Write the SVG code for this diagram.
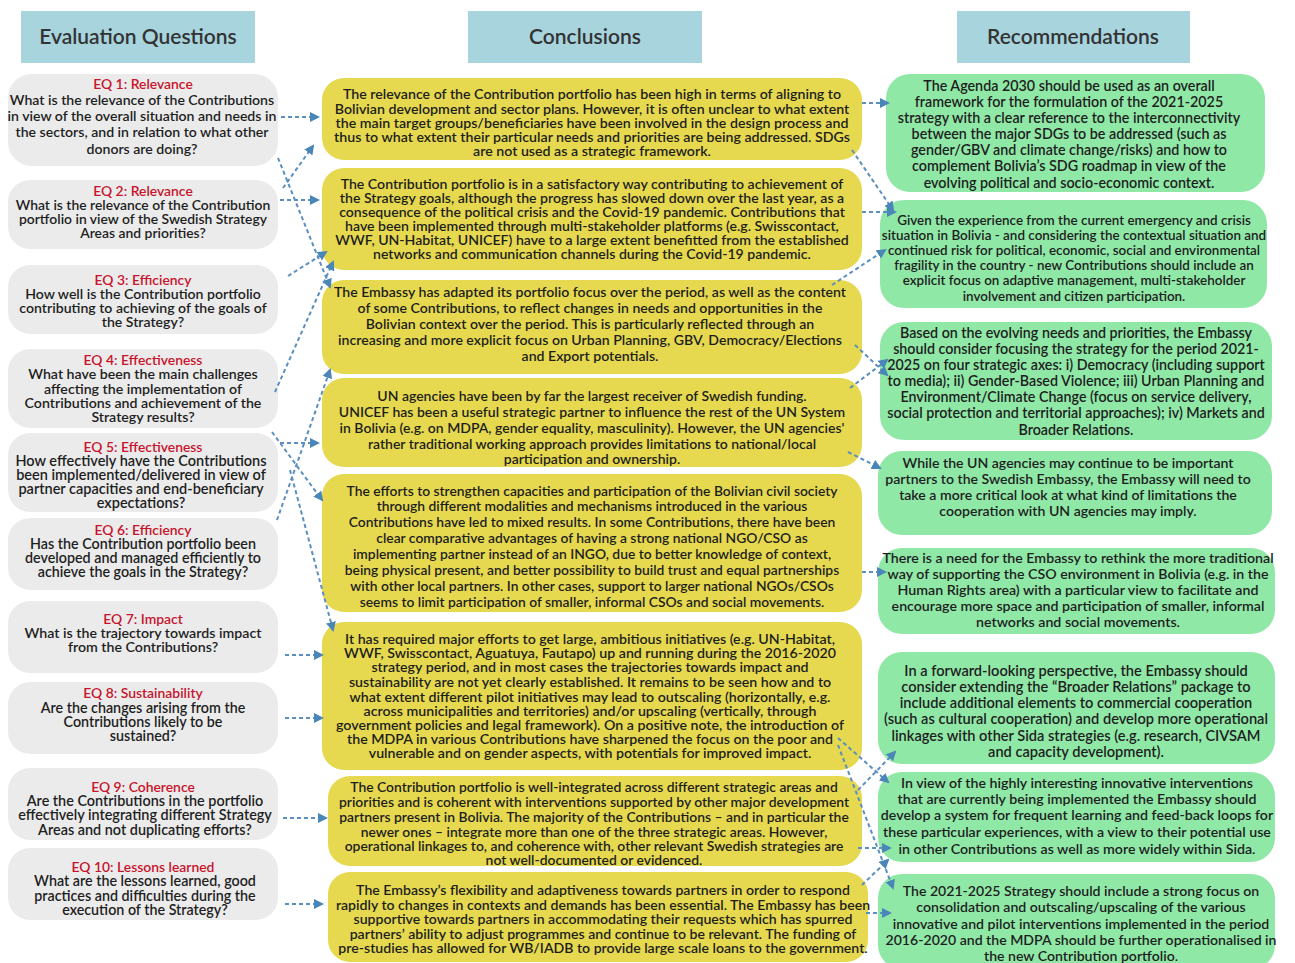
<svg xmlns="http://www.w3.org/2000/svg" width="1295" height="963" viewBox="0 0 1295 963">
<style>
text{font-family:Lato,"Open Sans","Liberation Sans",sans-serif;fill:#1e1e1e;text-anchor:middle;font-weight:600}
.hd rect{fill:#a8d4de}
.hd text{font-size:21px;fill:#333}
.q rect{fill:#ebebeb}
.q{font-size:14px}
.q .t{fill:#c8142c;font-size:13.9px}
.c rect{fill:#e6d94f}
.c{font-size:14.1px}
.r rect{fill:#90e8a7}
.r{font-size:14.2px}
.cn path{fill:none;stroke:#5b8fbf;stroke-width:2;stroke-dasharray:4 3;marker-end:url(#ah)}
</style>
<defs>
<marker id="ah" viewBox="0 0 10 10" refX="8" refY="5" markerWidth="10" markerHeight="10" markerUnits="userSpaceOnUse" orient="auto">
<path d="M0,0 L10,5 L0,10 Z" fill="#4b86b9"/>
</marker>
</defs>
<rect width="1295" height="963" fill="#fff"/>

<g id="hdr-eq" class="hd"><rect x="21" y="11" width="234" height="52"/><text x="138" y="44">Evaluation Questions</text></g>
<g id="hdr-con" class="hd"><rect x="468" y="11" width="234" height="52"/><text x="585" y="44">Conclusions</text></g>
<g id="hdr-rec" class="hd"><rect x="957" y="11" width="233" height="52"/><text x="1073" y="44">Recommendations</text></g>

<g id="eq1" class="q" style="font-size:14.1px"><rect x="8" y="74" width="270" height="92" rx="24"/>
<text class="t" x="143" y="89">EQ 1: Relevance</text>
<text x="142" y="105">What is the relevance of the Contributions</text>
<text x="142" y="121">in view of the overall situation and needs in</text>
<text x="142" y="137">the sectors, and in relation to what other</text>
<text x="142" y="154">donors are doing?</text></g>
<g id="eq2" class="q" style="font-size:13.9px"><rect x="8" y="180" width="270" height="69" rx="22"/>
<text class="t" x="143" y="196">EQ 2: Relevance</text>
<text x="143" y="210">What is the relevance of the Contribution</text>
<text x="143" y="224">portfolio in view of the Swedish Strategy</text>
<text x="143" y="238">Areas and priorities?</text></g>
<g id="eq3" class="q" style="font-size:14.1px"><rect x="8" y="265" width="270" height="69" rx="22"/>
<text class="t" x="143" y="285">EQ 3: Efficiency</text>
<text x="143" y="299">How well is the Contribution portfolio</text>
<text x="143" y="313">contributing to achieving of the goals of</text>
<text x="143" y="327">the Strategy?</text></g>
<g id="eq4" class="q" style="font-size:14.2px"><rect x="8" y="349" width="270" height="79" rx="22"/>
<text class="t" x="143" y="365">EQ 4: Effectiveness</text>
<text x="143" y="379">What have been the main challenges</text>
<text x="143" y="394">affecting the implementation of</text>
<text x="143" y="408">Contributions and achievement of the</text>
<text x="143" y="422">Strategy results?</text></g>
<g id="eq5" class="q" style="font-size:14.5px"><rect x="8" y="433" width="270" height="79" rx="22"/>
<text class="t" x="143" y="452">EQ 5: Effectiveness</text>
<text x="141" y="466">How effectively have the Contributions</text>
<text x="141" y="480">been implemented/delivered in view of</text>
<text x="141" y="494">partner capacities and end-beneficiary</text>
<text x="141" y="508">expectations?</text></g>
<g id="eq6" class="q" style="font-size:14.3px"><rect x="8" y="518" width="270" height="72" rx="22"/>
<text class="t" x="143" y="535">EQ 6: Efficiency</text>
<text x="143" y="549">Has the Contribution portfolio been</text>
<text x="143" y="563">developed and managed efficiently to</text>
<text x="143" y="577">achieve the goals in the Strategy?</text></g>
<g id="eq7" class="q" style="font-size:14.2px"><rect x="8" y="601" width="270" height="72" rx="22"/>
<text class="t" x="143" y="624">EQ 7: Impact</text>
<text x="143" y="638">What is the trajectory towards impact</text>
<text x="143" y="652">from the Contributions?</text></g>
<g id="eq8" class="q" style="font-size:14.3px"><rect x="8" y="682" width="270" height="72" rx="22"/>
<text class="t" x="143" y="698">EQ 8: Sustainability</text>
<text x="143" y="713">Are the changes arising from the</text>
<text x="143" y="727">Contributions likely to be</text>
<text x="143" y="741">sustained?</text></g>
<g id="eq9" class="q" style="font-size:14.4px"><rect x="8" y="768" width="270" height="72" rx="22"/>
<text class="t" x="143" y="792">EQ 9: Coherence</text>
<text x="145" y="806">Are the Contributions in the portfolio</text>
<text x="145" y="820">effectively integrating different Strategy</text>
<text x="145" y="835">Areas and not duplicating efforts?</text></g>
<g id="eq10" class="q" style="font-size:14.3px"><rect x="8" y="848" width="270" height="72" rx="22"/>
<text class="t" x="143" y="872">EQ 10: Lessons learned</text>
<text x="145" y="886">What are the lessons learned, good</text>
<text x="145" y="901">practices and difficulties during the</text>
<text x="145" y="915">execution of the Strategy?</text></g>

<g id="c1" class="c" style="font-size:14.2px"><rect x="322" y="78" width="540" height="82" rx="22"/>
<text x="592" y="99">The relevance of the Contribution portfolio has been high in terms of aligning to</text>
<text x="592" y="114">Bolivian development and sector plans. However, it is often unclear to what extent</text>
<text x="592" y="128">the main target groups/beneficiaries have been involved in the design process and</text>
<text x="592" y="142">thus to what extent their particular needs and priorities are being addressed. SDGs</text>
<text x="592" y="156">are not used as a strategic framework.</text></g>
<g id="c2" class="c" style="font-size:14.1px"><rect x="322" y="168" width="540" height="102" rx="22"/>
<text x="592" y="189">The Contribution portfolio is in a satisfactory way contributing to achievement of</text>
<text x="592" y="203">the Strategy goals, although the progress has slowed down over the last year, as a</text>
<text x="592" y="217">consequence of the political crisis and the Covid-19 pandemic. Contributions that</text>
<text x="592" y="231">have been implemented through multi-stakeholder platforms (e.g. Swisscontact,</text>
<text x="592" y="245">WWF, UN-Habitat, UNICEF) have to a large extent benefitted from the established</text>
<text x="592" y="259">networks and communication channels during the Covid-19 pandemic.</text></g>
<g id="c3" class="c" style="font-size:14.1px"><rect x="322" y="280" width="540" height="94" rx="22"/>
<text x="590" y="297">The Embassy has adapted its portfolio focus over the period, as well as the content</text>
<text x="590" y="313">of some Contributions, to reflect changes in needs and opportunities in the</text>
<text x="590" y="329">Bolivian context over the period. This is particularly reflected through an</text>
<text x="590" y="345">increasing and more explicit focus on Urban Planning, GBV, Democracy/Elections</text>
<text x="590" y="361">and Export potentials.</text></g>
<g id="c4" class="c" style="font-size:14px"><rect x="322" y="378" width="540" height="89" rx="22"/>
<text x="592" y="401">UN agencies have been by far the largest receiver of Swedish funding.</text>
<text x="592" y="417">UNICEF has been a useful strategic partner to influence the rest of the UN System</text>
<text x="592" y="433">in Bolivia (e.g. on MDPA, gender equality, masculinity). However, the UN agencies'</text>
<text x="592" y="449">rather traditional working approach provides limitations to national/local</text>
<text x="592" y="464">participation and ownership.</text></g>
<g id="c5" class="c" style="font-size:13.85px"><rect x="322" y="474" width="540" height="138" rx="22"/>
<text x="592" y="496">The efforts to strengthen capacities and participation of the Bolivian civil society</text>
<text x="592" y="511">through different modalities and mechanisms introduced in the various</text>
<text x="592" y="527">Contributions have led to mixed results. In some Contributions, there have been</text>
<text x="592" y="543">clear comparative advantages of having a strong national NGO/CSO as</text>
<text x="592" y="559">implementing partner instead of an INGO, due to better knowledge of context,</text>
<text x="592" y="575">being physical present, and better possibility to build trust and equal partnerships</text>
<text x="592" y="591">with other local partners. In other cases, support to larger national NGOs/CSOs</text>
<text x="592" y="607">seems to limit participation of smaller, informal CSOs and social movements.</text></g>
<g id="c6" class="c" style="font-size:14.2px"><rect x="322" y="622" width="540" height="148" rx="22"/>
<text x="590" y="644">It has required major efforts to get large, ambitious initiatives (e.g. UN-Habitat,</text>
<text x="590" y="658">WWF, Swisscontact, Aguatuya, Fautapo) up and running during the 2016-2020</text>
<text x="590" y="672">strategy period, and in most cases the trajectories towards impact and</text>
<text x="590" y="687">sustainability are not yet clearly established. It remains to be seen how and to</text>
<text x="590" y="702">what extent different pilot initiatives may lead to outscaling (horizontally, e.g.</text>
<text x="590" y="716">across municipalities and territories) and/or upscaling (vertically, through</text>
<text x="590" y="730">government policies and legal framework). On a positive note, the introduction of</text>
<text x="590" y="744">the MDPA in various Contributions have sharpened the focus on the poor and</text>
<text x="590" y="758">vulnerable and on gender aspects, with potentials for improved impact.</text></g>
<g id="c7" class="c" style="font-size:13.9px"><rect x="328" y="776" width="534" height="90" rx="22"/>
<text x="594" y="792">The Contribution portfolio is well-integrated across different strategic areas and</text>
<text x="594" y="807">priorities and is coherent with interventions supported by other major development</text>
<text x="594" y="822">partners present in Bolivia. The majority of the Contributions – and in particular the</text>
<text x="594" y="837">newer ones – integrate more than one of the three strategic areas. However,</text>
<text x="594" y="851">operational linkages to, and coherence with, other relevant Swedish strategies are</text>
<text x="594" y="865">not well-documented or evidenced.</text></g>
<g id="c8" class="c" style="font-size:14.1px"><rect x="328" y="872" width="540" height="90" rx="22"/>
<text x="603" y="895">The Embassy’s flexibility and adaptiveness towards partners in order to respond</text>
<text x="603" y="910">rapidly to changes in contexts and demands has been essential. The Embassy has been</text>
<text x="603" y="924">supportive towards partners in accommodating their requests which has spurred</text>
<text x="603" y="939">partners’ ability to adjust programmes and continue to be relevant. The funding of</text>
<text x="603" y="953">pre-studies has allowed for WB/IADB to provide large scale loans to the government.</text></g>

<g id="r1" class="r" style="font-size:14.3px"><rect x="886" y="74" width="379" height="118" rx="24"/>
<text x="1069" y="91">The Agenda 2030 should be used as an overall</text>
<text x="1069" y="107">framework for the formulation of the 2021-2025</text>
<text x="1069" y="123">strategy with a clear reference to the interconnectivity</text>
<text x="1069" y="139">between the major SDGs to be addressed (such as</text>
<text x="1069" y="155">gender/GBV and climate change/risks) and how to</text>
<text x="1069" y="171">complement Bolivia’s SDG roadmap in view of the</text>
<text x="1069" y="188">evolving political and socio-economic context.</text></g>
<g id="r2" class="r" style="font-size:13.45px"><rect x="880" y="200" width="387" height="108" rx="24"/>
<text x="1074" y="225">Given the experience from the current emergency and crisis</text>
<text x="1074" y="240">situation in Bolivia - and considering the contextual situation and</text>
<text x="1074" y="255">continued risk for political, economic, social and environmental</text>
<text x="1074" y="270">fragility in the country - new Contributions should include an</text>
<text x="1074" y="285">explicit focus on adaptive management, multi-stakeholder</text>
<text x="1074" y="301">involvement and citizen participation.</text></g>
<g id="r3" class="r" style="font-size:14.25px"><rect x="880" y="322" width="392" height="118" rx="24"/>
<text x="1076" y="338">Based on the evolving needs and priorities, the Embassy</text>
<text x="1076" y="354">should consider focusing the strategy for the period 2021-</text>
<text x="1076" y="370">2025 on four strategic axes: i) Democracy (including support</text>
<text x="1076" y="386">to media); ii) Gender-Based Violence; iii) Urban Planning and</text>
<text x="1076" y="402">Environment/Climate Change (focus on service delivery,</text>
<text x="1076" y="418">social protection and territorial approaches); iv) Markets and</text>
<text x="1076" y="435">Broader Relations.</text></g>
<g id="r4" class="r" style="font-size:14.1px"><rect x="878" y="451" width="394" height="84" rx="24"/>
<text x="1068" y="468">While the UN agencies may continue to be important</text>
<text x="1068" y="484">partners to the Swedish Embassy, the Embassy will need to</text>
<text x="1068" y="500">take a more critical look at what kind of limitations the</text>
<text x="1068" y="516">cooperation with UN agencies may imply.</text></g>
<g id="r5" class="r" style="font-size:14.2px"><rect x="878" y="548" width="397" height="86" rx="24"/>
<text x="1078" y="563">There is a need for the Embassy to rethink the more traditional</text>
<text x="1078" y="579">way of supporting the CSO environment in Bolivia (e.g. in the</text>
<text x="1078" y="595">Human Rights area) with a particular view to facilitate and</text>
<text x="1078" y="611">encourage more space and participation of smaller, informal</text>
<text x="1078" y="627">networks and social movements.</text></g>
<g id="r6" class="r" style="font-size:14.6px"><rect x="878" y="652" width="397" height="112" rx="24"/>
<text x="1076" y="676">In a forward-looking perspective, the Embassy should</text>
<text x="1076" y="692">consider extending the “Broader Relations” package to</text>
<text x="1076" y="708">include additional elements to commercial cooperation</text>
<text x="1076" y="724">(such as cultural cooperation) and develop more operational</text>
<text x="1076" y="741">linkages with other Sida strategies (e.g. research, CIVSAM</text>
<text x="1076" y="757">and capacity development).</text></g>
<g id="r7" class="r" style="font-size:14.2px"><rect x="878" y="772" width="397" height="90" rx="24"/>
<text x="1077" y="788">In view of the highly interesting innovative interventions</text>
<text x="1077" y="804">that are currently being implemented the Embassy should</text>
<text x="1077" y="820">develop a system for frequent learning and feed-back loops for</text>
<text x="1077" y="837">these particular experiences, with a view to their potential use</text>
<text x="1077" y="854">in other Contributions as well as more widely within Sida.</text></g>
<g id="r8" class="r" style="font-size:14.1px"><rect x="878" y="874" width="397" height="95" rx="24"/>
<text x="1081" y="896">The 2021-2025 Strategy should include a strong focus on</text>
<text x="1081" y="912">consolidation and outscaling/upscaling of the various</text>
<text x="1081" y="929">innovative and pilot interventions implemented in the period</text>
<text x="1081" y="945">2016-2020 and the MDPA should be further operationalised in</text>
<text x="1081" y="961">the new Contribution portfolio.</text></g>

<g id="connectors" class="cn">
<path d="M281,117 L318,117"/>
<path d="M283,188 L313,146"/>
<path d="M278,158 L330,287"/>
<path d="M280,200 L318,200"/>
<path d="M288,276 L326,252"/>
<path d="M275,392 L333,262"/>
<path d="M280,443 L318,443"/>
<path d="M272,432 L322,500"/>
<path d="M277,520 L330,370"/>
<path d="M290,470 L333,630"/>
<path d="M285,655 L322,655"/>
<path d="M285,718 L322,718"/>
<path d="M283,818 L326,818"/>
<path d="M285,904 L322,904"/>
<path d="M862,103 L888,103"/>
<path d="M852,150 L893,210"/>
<path d="M862,212 L895,212"/>
<path d="M832,285 L885,250"/>
<path d="M855,345 L887,375"/>
<path d="M850,388 L887,360"/>
<path d="M848,452 L880,468"/>
<path d="M862,572 L885,572"/>
<path d="M838,738 L888,782"/>
<path d="M838,745 L893,888"/>
<path d="M858,790 L895,752"/>
<path d="M858,848 L890,848"/>
<path d="M862,885 L888,860"/>
<path d="M866,913 L890,913"/>
</g>
</svg>
